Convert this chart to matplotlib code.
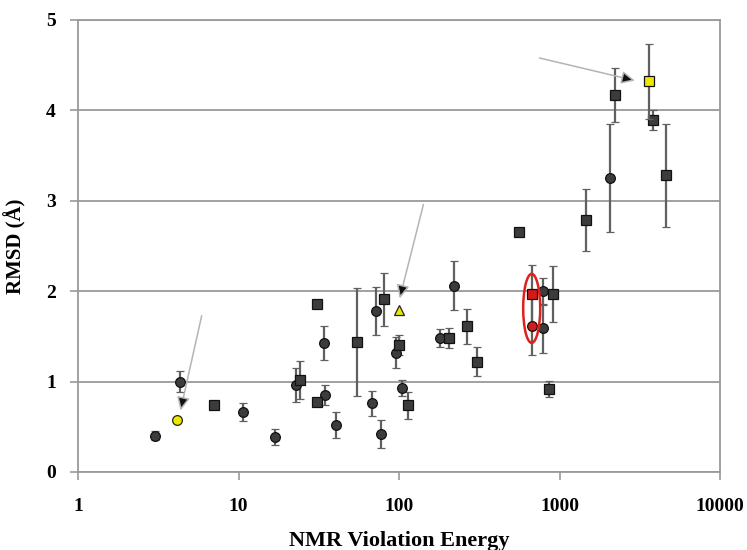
import matplotlib
matplotlib.use("Agg")
import matplotlib.pyplot as plt
from matplotlib.patches import Ellipse
from matplotlib.transforms import ScaledTranslation

# ---- data ----
circ_x = [3.0, 4.35, 10.7, 16.8, 22.9, 30.8, 34.0, 34.4, 40.3, 67.5, 71.8, 76.8, 96.2, 104, 181, 220, 787, 787, 2065]
circ_y = [0.40, 1.00, 0.66, 0.39, 0.96, 1.86, 1.43, 0.85, 0.52, 0.76, 1.78, 0.42, 1.32, 0.93, 1.48, 2.06, 2.00, 1.59, 3.25]
circ_e = [0.05, 0.12, 0.10, 0.09, 0.19, 0.03, 0.19, 0.11, 0.14, 0.14, 0.27, 0.16, 0.17, 0.09, 0.10, 0.27, 0.15, 0.27, 0.60]

sq_x = [7.05, 24.1, 30.8, 30.8, 54.5, 80.2, 100, 113, 206, 266, 305, 563, 857, 912, 1463, 2207, 3822, 4627]
sq_y = [0.74, 1.02, 0.77, 1.86, 1.44, 1.91, 1.40, 0.74, 1.48, 1.61, 1.22, 2.65, 0.92, 1.97, 2.79, 4.17, 3.89, 3.28]
sq_e = [0.0, 0.21, 0.03, 0.03, 0.60, 0.29, 0.11, 0.15, 0.11, 0.19, 0.16, 0.0, 0.09, 0.31, 0.34, 0.30, 0.11, 0.57]

red_sq_x, red_sq_y, red_sq_e = [671], [1.97], [0.32]
red_ci_x, red_ci_y, red_ci_e = [671], [1.62], [0.33]

yel_ci_x, yel_ci_y = [4.11], [0.575]
yel_tri_x, yel_tri_y = [99.5], [1.79]
yel_sq_x, yel_sq_y, yel_sq_e = [3606], [4.32], [0.42]

# arrows: (start_x, start_y) -> (tip_x, tip_y)
arrows = [((5.9, 1.73), (4.35, 0.68)),
          ((142, 2.96), (101, 1.92)),
          ((750, 4.58), (2950, 4.33))]

ellipse_center = (671, 1.81)

xticks = [1, 10, 100, 1000, 10000]
xtick_labels = ["1", "10", "100", "1000", "10000"]
yticks = [0, 1, 2, 3, 4, 5]

# ---- styling ----
plt.rcParams['font.family'] = ['Liberation Serif', 'DejaVu Serif']
W, H = 747, 550
fig = plt.figure(figsize=(W / 100, H / 100), dpi=100)
ax = fig.add_axes([78 / W, 1 - 472 / H, (720 - 78) / W, (472 - 20) / H])

grid_c = '#9a9a9a'
mk_fc = '#3c3c3c'
err_c = '#606060'
ms = 7.0

def eb(x, y, e, marker, fc, ms_=ms, z=3):
    ax.errorbar(x, y, yerr=e, fmt=marker, ms=ms_, mfc=fc, mec='#111111', mew=0.9,
                ecolor=err_c, elinewidth=1.6, capsize=3, capthick=1.4, zorder=z)

eb(circ_x, circ_y, circ_e, 'o', mk_fc)
eb(sq_x, sq_y, sq_e, 's', mk_fc)
eb(red_sq_x, red_sq_y, red_sq_e, 's', '#d81818')
eb(red_ci_x, red_ci_y, red_ci_e, 'o', '#d81818')
eb(yel_sq_x, yel_sq_y, yel_sq_e, 's', '#eee800', z=4)
ax.plot(yel_ci_x, yel_ci_y, 'o', ms=ms, mfc='#eee800', mec='#222222', mew=0.9, zorder=4)
ax.plot(yel_tri_x, yel_tri_y, '^', ms=ms, mfc='#eee800', mec='#222222', mew=0.9, zorder=4)

for (sx, sy), (tx, ty) in arrows:
    ax.annotate('', xy=(tx, ty), xytext=(sx, sy),
                arrowprops=dict(arrowstyle='-|>,head_length=0.8,head_width=0.38',
                                ec='#b4b4b4', fc='#111111', lw=1.1, shrinkA=0, shrinkB=0),
                zorder=5)

ell = Ellipse((0, 0), width=17 / 100, height=69 / 100, fill=False, ec='#e0201a', lw=1.8,
              transform=fig.dpi_scale_trans + ScaledTranslation(ellipse_center[0], ellipse_center[1], ax.transData),
              zorder=6)
ax.add_patch(ell)

ax.set_xscale('log')
ax.set_xlim(1, 10000)
ax.set_ylim(0, 5)
ax.set_xticks(xticks)
ax.set_xticklabels(xtick_labels)
ax.set_yticks(yticks)
ax.minorticks_off()
ax.yaxis.grid(True, color=grid_c, lw=1.3)
ax.set_axisbelow(True)
for s in ax.spines.values():
    s.set_color(grid_c)
    s.set_linewidth(1.3)
ax.tick_params(axis='both', direction='out', length=6, width=1.2, color=grid_c,
               labelsize=14)
ax.tick_params(axis='x', pad=13)
ax.tick_params(axis='y', pad=10)
for lab in ax.get_xticklabels() + ax.get_yticklabels():
    lab.set_fontweight('bold')

ax.set_xlabel('NMR Violation Energy', fontsize=16, fontweight='bold', labelpad=11)
ax.set_ylabel('RMSD (Å)', fontsize=15, fontweight='bold', labelpad=14)

fig.savefig('out.png', dpi=100)
